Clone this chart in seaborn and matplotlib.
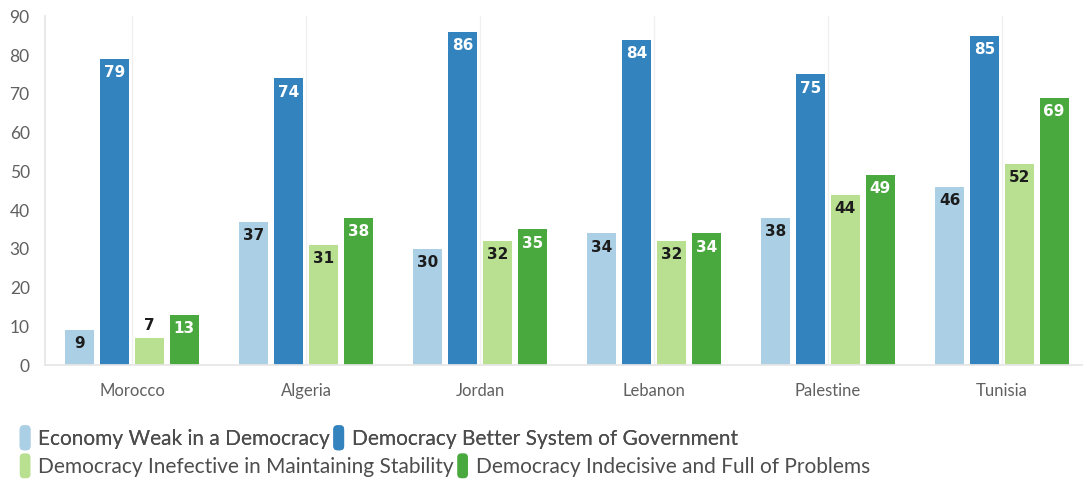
import pandas as pd
import seaborn as sns
import matplotlib.pyplot as plt
from matplotlib.patches import FancyBboxPatch
from matplotlib.legend_handler import HandlerPatch


OUTPUT_PATH = "out.png"

COUNTRIES = ["Morocco", "Algeria", "Jordan", "Lebanon", "Palestine", "Tunisia"]
SERIES = [
    "Economy Weak in a Democracy",
    "Democracy Better System of Government",
    "Democracy Inefective in Maintaining Stability",
    "Democracy Indecisive and Full of Problems",
]
ECONOMY_WEAK = [9, 37, 30, 34, 38, 46]
BETTER_SYSTEM = [79, 74, 86, 84, 75, 85]
INEFFECTIVE = [7, 31, 32, 32, 44, 52]
INDECISIVE = [13, 38, 35, 34, 49, 69]

COLORS = ["#abd0e6", "#3383be", "#b9e090", "#4aa93e"]
LABEL_COLORS = ["#1c1c1c", "white", "#1c1c1c", "white"]


class RoundHandle(HandlerPatch):
    def create_artists(self, legend, orig_handle, xdescent, ydescent,
                       width, height, fontsize, trans):
        p = FancyBboxPatch((-xdescent + 1, -ydescent - 3), width - 2, height + 6,
                           boxstyle="round,pad=0,rounding_size=3",
                           facecolor=orig_handle.get_facecolor(),
                           edgecolor="none", transform=trans)
        return [p]


def main() -> None:
    values = [ECONOMY_WEAK, BETTER_SYSTEM, INEFFECTIVE, INDECISIVE]
    rows = []
    for name, vals in zip(SERIES, values):
        for country, v in zip(COUNTRIES, vals):
            rows.append({"Country": country, "Series": name, "Value": v})
    df = pd.DataFrame(rows)

    sns.set_theme(style="white")
    plt.rcParams["font.family"] = ["Lato", "DejaVu Sans"]

    fig = plt.figure(figsize=(10.83, 4.82), dpi=100)
    ax = fig.add_axes([45 / 1083, 1 - 365 / 482, 1038 / 1083, (365 - 16.4) / 482])

    sns.barplot(
        data=df,
        x="Country",
        y="Value",
        hue="Series",
        order=COUNTRIES,
        hue_order=SERIES,
        palette=COLORS,
        saturation=1,
        width=0.8,
        gap=0.16,
        linewidth=0,
        legend=False,
        ax=ax,
        zorder=2,
    )

    # value labels inside the top of each bar
    for i, container in enumerate(ax.containers):
        for bar, v in zip(container, values[i]):
            x = bar.get_x() + bar.get_width() / 2
            if v < 8:
                ax.text(x, v + 1.2, f"{v}", ha="center", va="bottom",
                        fontsize=11, fontweight="bold", color="#1c1c1c",
                        family="DejaVu Sans")
            else:
                ax.text(x, v - 1.6, f"{v}", ha="center", va="top",
                        fontsize=11, fontweight="bold", color=LABEL_COLORS[i],
                        family="DejaVu Sans")

    ax.set_ylim(0, 90)
    ax.set_xlim(-0.5, 5.466)
    ax.set_yticks(range(0, 91, 10))
    ax.set_xlabel("")
    ax.set_ylabel("")

    ax.xaxis.grid(True, color="#f0f0f0", linewidth=1, zorder=0)
    ax.yaxis.grid(False)
    ax.set_axisbelow(True)

    for side in ["top", "right"]:
        ax.spines[side].set_visible(False)
    ax.spines["left"].set_color("#e6e6e6")
    ax.spines["bottom"].set_color("#e6e6e6")
    ax.tick_params(axis="y", length=9, width=1, color="#e6e6e6",
                   labelsize=12.5, labelcolor="#606060", pad=2)
    ax.tick_params(axis="x", length=9, width=1, color="#e6e6e6",
                   labelsize=12, labelcolor="#606060", pad=4)

    handles = [plt.Rectangle((0, 0), 1, 1, facecolor=c) for c in COLORS]
    common = dict(
        frameon=False,
        ncol=2,
        fontsize=15,
        handlelength=0.65,
        handleheight=0.85,
        handletextpad=0.3,
        columnspacing=0.1,
        borderaxespad=0,
        handler_map={plt.Rectangle: RoundHandle()},
        labelcolor="#4d4d4d",
    )
    leg1 = fig.legend(handles[:2], SERIES[:2], loc="center left",
                      bbox_to_anchor=(10 / 1083, 1 - 439 / 482), **common)
    fig.legend(handles[2:], SERIES[2:], loc="center left",
               bbox_to_anchor=(10 / 1083, 1 - 467 / 482), **common)
    fig.add_artist(leg1)

    fig.savefig(OUTPUT_PATH, dpi=100)
    plt.close(fig)


if __name__ == "__main__":
    main()
